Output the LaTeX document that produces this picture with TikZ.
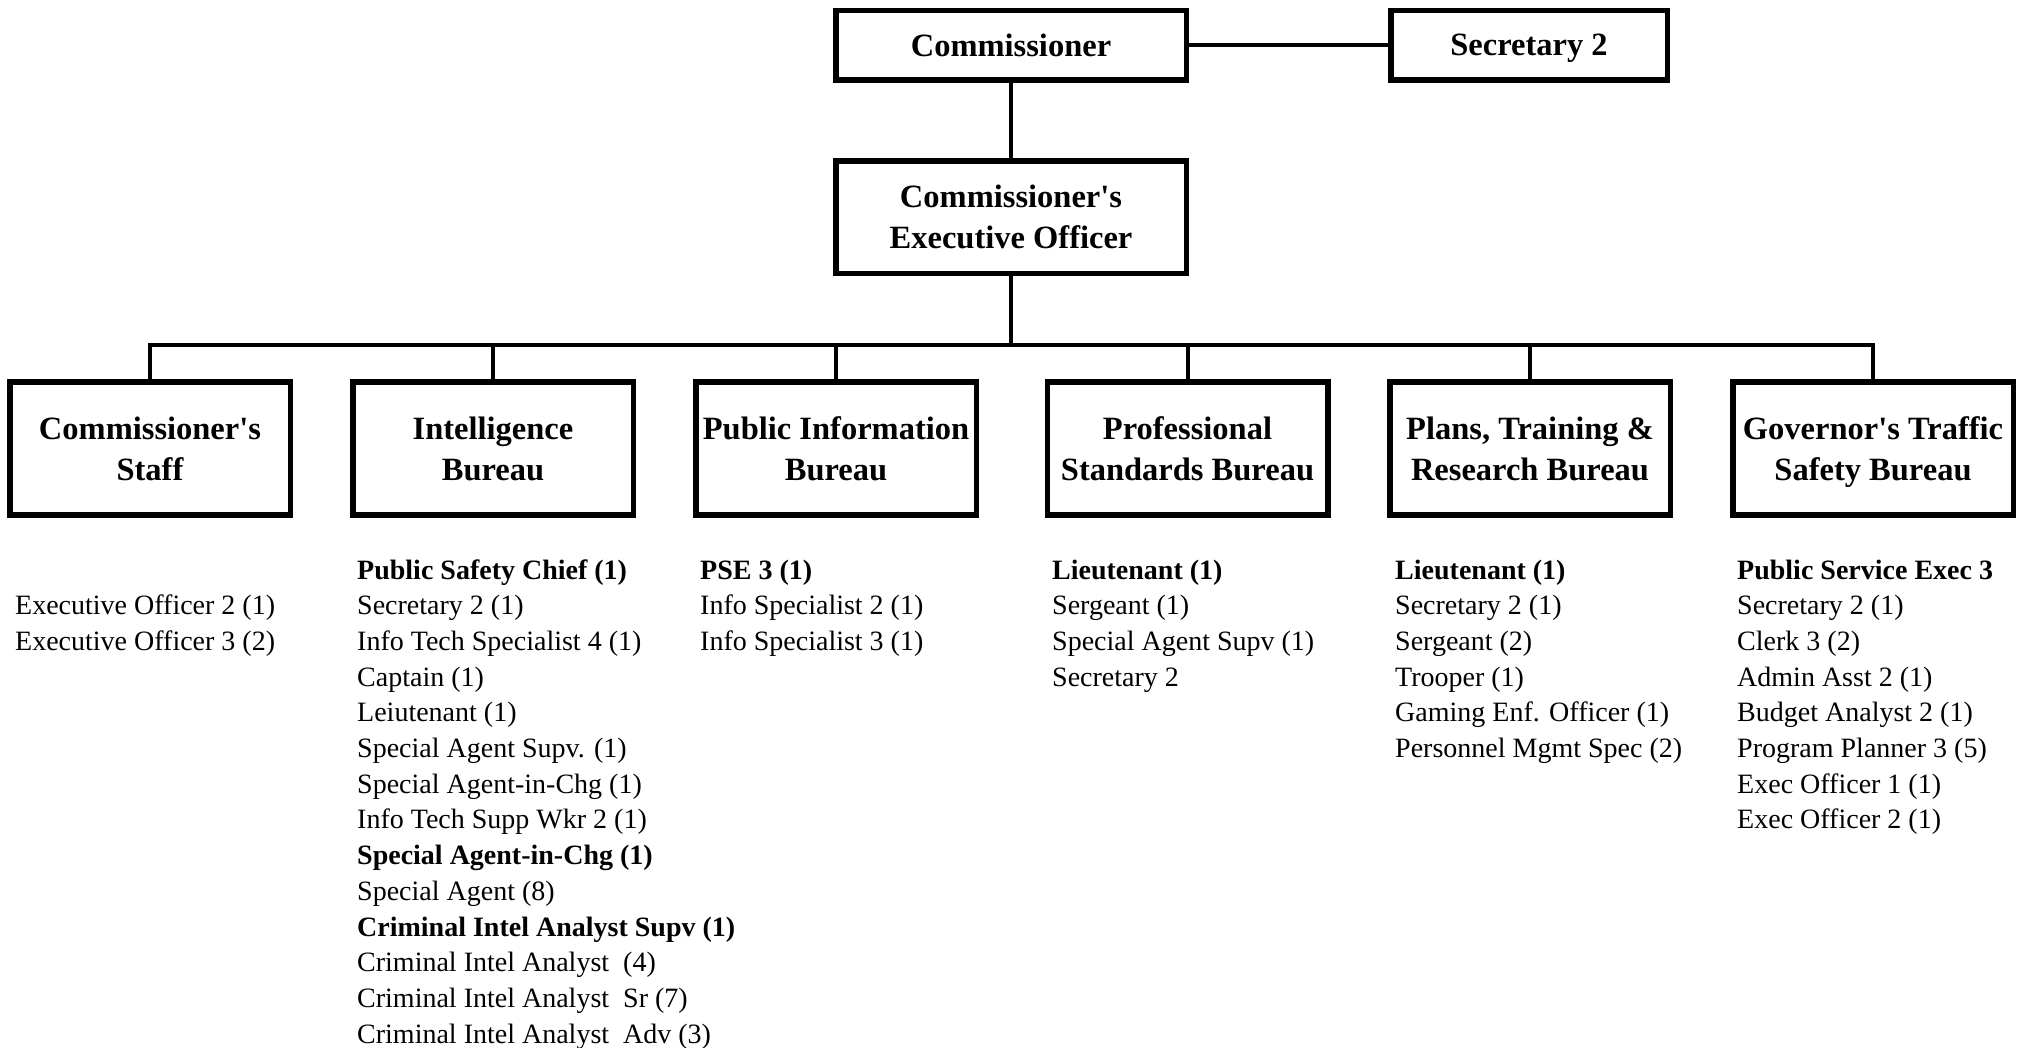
\documentclass[tikz,border=0pt]{standalone}
\usepackage{fontspec}
\setmainfont{Liberation Serif}[Ligatures=TeXOff]
\begin{document}
\begin{tikzpicture}[x=1pt,y=-1pt,
  box/.style={draw, line width=5.5pt, inner sep=0pt, align=center,
    font=\fontsize{32.5}{41}\selectfont\bfseries, text depth=0pt,
    minimum width=280.5pt, minimum height=133pt},
  conn/.style={line width=4pt},
  item/.style={anchor=base west, inner sep=0pt, font=\fontsize{28}{34}\selectfont}]
\useasboundingbox (0,0) rectangle (2021,1047);

% top boxes
\node[box, minimum width=350.5pt, minimum height=69.5pt] (comm) at (1011,45) {Commissioner};
\node[box, minimum width=276.5pt, minimum height=69.5pt] (sec) at (1529,45) {Secretary 2};
\node[box, minimum width=350.5pt, minimum height=112.5pt] (exec) at (1011,217) {Commissioner's\\Executive Officer};

% bureaus
\node[box] (staff) at (150,448.7) {Commissioner's\\Staff};
\node[box] (intel) at (493,448.7) {Intelligence\\Bureau};
\node[box] (pub)   at (836,448.7) {Public Information\\Bureau};
\node[box] (prof)  at (1187.5,448.7) {Professional\\Standards Bureau};
\node[box] (plans) at (1530,448.7) {Plans, Training \&\\Research Bureau};
\node[box] (gov)   at (1873,448.7) {Governor's Traffic\\Safety Bureau};

% connectors
\coordinate (bus) at (1011,345);
\draw[conn] (comm.east) -- (sec.west);
\draw[conn] (comm.south) -- (exec.north);
\draw[conn] (exec.south) -- (bus);
\foreach \b in {staff,intel,pub,prof,plans,gov} \draw[conn] (\b.north) |- (bus);

% staff lists
\foreach \t [count=\i from 1] in {Executive Officer 2 (1), Executive Officer 3 (2)}
  \node[item] (staff-\i) at (15,{579+35.7*\i}) {\t};

\foreach \t [count=\i from 0] in {\textbf{Public Safety Chief (1)}, Secretary 2 (1),
  Info Tech Specialist 4 (1), Captain (1), Leiutenant (1), Special Agent Supv. (1),
  Special Agent-in-Chg (1), Info Tech Supp Wkr 2 (1), \textbf{Special Agent-in-Chg (1)},
  Special Agent (8), \textbf{Criminal Intel Analyst Supv (1)},
  Criminal Intel Analyst\ \ (4), Criminal Intel Analyst\ \ Sr (7),
  Criminal Intel Analyst\ \ Adv (3)}
  \node[item] (intel-\i) at (357,{579+35.7*\i}) {\t};

\foreach \t [count=\i from 0] in {\textbf{PSE 3 (1)}, Info Specialist 2 (1), Info Specialist 3 (1)}
  \node[item] (pub-\i) at (700,{579+35.7*\i}) {\t};

\foreach \t [count=\i from 0] in {\textbf{Lieutenant (1)}, Sergeant (1), Special Agent Supv (1), Secretary 2}
  \node[item] (prof-\i) at (1052,{579+35.7*\i}) {\t};

\foreach \t [count=\i from 0] in {\textbf{Lieutenant (1)}, Secretary 2 (1), Sergeant (2),
  Trooper (1), Gaming Enf. Officer (1), Personnel Mgmt Spec (2)}
  \node[item] (plans-\i) at (1395,{579+35.7*\i}) {\t};

\foreach \t [count=\i from 0] in {\textbf{Public Service Exec 3}, Secretary 2 (1), Clerk 3 (2),
  Admin Asst 2 (1), Budget Analyst 2 (1), Program Planner 3 (5), Exec Officer 1 (1),
  Exec Officer 2 (1)}
  \node[item] (gov-\i) at (1737,{579+35.7*\i}) {\t};
\end{tikzpicture}
\end{document}
